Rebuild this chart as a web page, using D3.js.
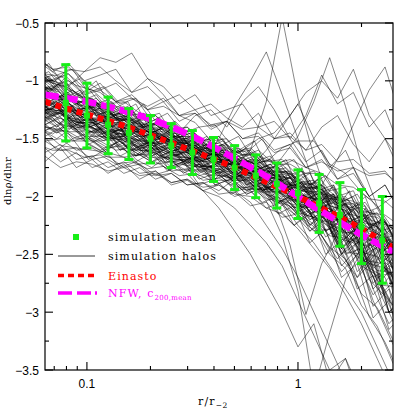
<!DOCTYPE html>
<html><head><meta charset="utf-8">
<script src="https://cdn.jsdelivr.net/npm/d3@7"></script>
<style>body{margin:0;background:#fff}svg{display:block}</style>
</head><body><svg id="c" width="415" height="415"></svg>
<script>
// ---------- data ----------
const xMajorTicks = [0.1, 1];
const xMajorLabels = ["0.1", "1"];
const xMinorTicks = [0.07, 0.08, 0.09, 0.2, 0.3, 0.4, 0.5, 0.6, 0.7, 0.8, 0.9, 2];
const yMajorTicks = [-3.5, -3, -2.5, -2, -1.5, -1, -0.5];
const yMajorLabels = ["\u22123.5", "\u22123", "\u22122.5", "\u22122", "\u22121.5", "\u22121", "\u22120.5"];
const yMinorTicks = [-3.25, -2.75, -2.25, -1.75, -1.25, -0.75];

// simulation mean with scatter
const meanX   = [0.0794, 0.1, 0.126, 0.158, 0.2, 0.251, 0.316, 0.398, 0.501, 0.631, 0.794, 1.0, 1.26, 1.58, 2.0, 2.51];
const meanY   = [-1.19, -1.30, -1.38, -1.45, -1.50, -1.56, -1.62, -1.68, -1.75, -1.82, -1.89, -1.97, -2.06, -2.16, -2.26, -2.38];
const errTop  = [-0.86, -1.02, -1.14, -1.24, -1.30, -1.37, -1.43, -1.49, -1.56, -1.64, -1.71, -1.77, -1.81, -1.88, -1.94, -2.00];
const errBot  = [-1.52, -1.58, -1.63, -1.68, -1.71, -1.75, -1.81, -1.87, -1.94, -2.01, -2.10, -2.19, -2.31, -2.43, -2.58, -2.75];

// model curves
const modelX   = [0.0633, 0.08, 0.1, 0.15, 0.2, 0.3, 0.5, 0.7, 1.0, 1.5, 2.0, 2.82];
const einastoY = [-1.18, -1.24, -1.29, -1.39, -1.47, -1.59, -1.75, -1.87, -2.00, -2.16, -2.28, -2.44];
const nfwY     = [-1.12, -1.15, -1.18, -1.26, -1.33, -1.46, -1.67, -1.82, -2.00, -2.20, -2.33, -2.48];

// individual halos: radii grids, values are slopes in units of -0.01
const haloGridA = [0.0531,0.0631,0.0750,0.0891,0.1059,0.1259,0.1496,0.1778,0.2113,0.2512,0.2985,0.3548,0.4217,0.5012,0.5957,0.7079,0.8414,1.0,1.189,1.413,1.679,1.995,2.371,2.818,3.350];
const haloGridB = [0.0579,0.0688,0.0818,0.0972,0.1155,0.1372,0.1631,0.1938,0.2303,0.2738,0.3255,0.3868,0.4597,0.5464,0.6494,0.7718,0.9173,1.0902,1.2957,1.5399,1.8302,2.1752,2.5852,3.0725,3.6517];
const haloGridC = [0.0555,0.0660,0.0784,0.0931,0.1107,0.1315,0.1563,0.1857,0.2207,0.2623,0.3117,0.3705,0.4402,0.5231,0.6217,0.7388,0.8780,1.0433,1.2398,1.4733,1.7508,2.0806,2.4725,2.9381,3.4915];
const haloGridD = [0.0606,0.0720,0.0855,0.1016,0.1208,0.1435,0.1706,0.2027,0.2409,0.2862,0.3401,0.4042,0.4803,0.5708,0.6783,0.8060,0.9578,1.1382,1.3526,1.6073,1.9100,2.2697,2.6972,3.2052,3.8089];
const halosSetAB = [
 [98,108,104,118,120,132,126,140,138,146,144,156,154,166,162,176,172,188,186,202,200,218,214,236,240],
 [128,134,140,136,148,150,160,154,166,168,172,174,184,182,194,190,204,200,218,214,234,228,252,248,266],
 [82,94,96,104,108,120,118,128,130,142,140,152,148,162,160,174,176,186,190,204,206,222,226,240,252],
 [118,126,124,134,132,144,138,152,150,158,156,168,162,178,174,186,184,202,196,220,212,238,232,256,254],
 [150,144,156,158,160,162,166,164,172,170,178,176,182,184,192,186,200,198,214,210,232,228,252,262,276],
 [106,116,110,124,122,130,132,142,140,152,146,160,160,172,164,182,180,196,190,206,200,226,222,248,250],
 [116,122,118,130,128,138,140,148,146,156,154,166,160,174,160,118,45,115,165,205,210,228,226,246,248],
 [95,102,90,92,80,84,76,98,112,130,136,152,150,164,164,180,178,194,190,208,206,224,222,244,242],
 [132,126,138,140,144,146,150,152,160,154,168,166,174,174,186,182,198,196,220,222,248,250,276,278,300],
 [112,104,118,118,130,132,136,138,150,148,158,158,170,166,178,178,190,192,206,202,222,218,236,232,250],
 [122,128,128,136,138,144,146,152,154,162,160,170,150,122,100,75,112,150,188,208,212,232,236,256,258],
 [140,146,136,148,148,150,154,160,162,166,168,178,176,184,184,196,194,210,206,230,232,256,258,284,286],
 [104,112,114,124,124,132,134,144,144,152,154,162,164,172,172,182,166,148,118,80,122,172,208,234,240],
 [118,112,124,128,138,132,144,144,150,152,162,160,172,172,180,182,192,194,190,168,138,108,88,132,172],
 [126,134,128,140,140,150,148,158,158,166,166,174,176,184,188,204,234,282,368,318,272,248,264,266,284],
 [110,120,122,132,132,142,144,152,150,160,160,170,170,178,182,204,242,302,258,232,238,258,262,278,282],
 [88,98,102,114,116,126,130,136,138,148,148,158,158,170,170,180,182,192,192,202,204,216,218,228,234],
 [136,142,144,152,152,160,158,166,166,172,174,182,182,192,194,202,206,216,220,236,240,262,270,306,326],
 [100,106,110,118,118,130,128,138,138,148,150,158,160,168,170,178,178,188,190,200,202,212,216,228,232],
 [120,130,124,134,138,146,146,154,152,162,160,170,170,180,180,190,192,204,208,222,222,238,240,266,274],
 [145,152,150,160,158,166,166,172,170,178,176,186,184,192,192,202,204,214,218,234,236,260,268,296,314],
 [92,102,106,116,120,132,134,144,148,156,156,164,166,172,174,182,184,196,196,206,210,220,224,232,234],
 [114,124,126,136,136,144,142,150,148,156,158,166,168,174,176,188,190,202,206,220,220,236,246,276,294],
 [108,116,116,126,128,138,138,146,146,154,154,164,164,174,176,188,194,212,224,250,266,304,326,356,356],
 [130,138,132,142,144,152,150,160,160,168,168,176,178,186,186,196,196,208,210,224,224,242,242,262,260],
 [80,90,94,106,110,122,126,136,138,148,148,158,160,170,172,182,184,192,194,202,204,214,216,226,228],
 [120,114,126,126,134,138,144,144,154,154,160,162,170,172,178,180,190,190,202,202,214,218,232,240,262],
 [155,160,160,166,164,172,170,176,174,182,180,186,186,194,194,204,208,224,234,254,236,272,286,316,336],
 [104,114,116,126,126,136,136,146,146,154,156,164,166,174,176,186,188,198,202,216,206,228,232,250,250],
 [126,120,132,134,134,138,148,148,150,154,164,164,172,176,186,186,196,200,210,216,230,218,244,252,272],
 [96,106,108,120,124,134,134,142,144,152,154,162,164,172,172,182,186,194,198,198,208,220,226,242,246],
 [138,132,144,144,152,150,160,160,166,168,174,174,182,184,194,194,202,206,218,224,238,244,262,274,298],
 [112,120,124,134,134,142,144,152,152,160,162,170,170,182,184,192,194,206,210,224,230,248,252,276,284],
 [108,114,114,124,126,134,134,142,142,150,150,158,158,164,164,172,172,180,180,190,192,202,204,216,218],
 [124,132,126,138,140,148,148,156,156,164,164,174,174,182,182,192,198,214,224,244,254,284,296,324,340],
 [102,112,114,122,124,132,134,144,144,152,152,162,162,170,170,178,180,190,194,206,212,228,236,254,260],
 [134,140,142,150,150,158,156,164,162,170,168,176,176,184,186,198,202,216,226,250,262,294,312,344,366],
 [116,122,124,132,134,140,142,150,150,158,158,168,168,176,176,184,188,200,204,216,220,232,238,252,260],
 [90,100,104,112,116,128,132,140,140,150,152,160,162,172,174,184,184,194,196,208,212,224,230,244,250],
 [128,124,134,136,144,144,150,152,158,158,166,168,176,176,184,184,194,196,208,214,228,236,254,262,280],
 [118,126,128,136,136,146,146,154,154,162,162,170,168,174,168,170,158,152,152,172,180,196,208,228,238],
 [146,140,152,152,160,154,164,164,170,170,178,178,186,186,196,196,206,210,222,230,250,258,286,302,334]
];
const halosSetCD = [
 [90,110,98,125,118,140,130,128,150,142,165,158,150,172,190,176,168,200,185,215,240,210,250,235,270],
 [135,120,142,150,138,160,155,170,162,158,178,185,170,190,182,205,198,186,230,220,205,260,240,280,300],
 [105,98,115,108,130,125,118,142,150,138,155,148,168,160,152,180,195,175,210,190,230,250,220,270,260],
 [128,140,125,145,152,140,165,158,148,170,162,180,176,168,195,188,205,218,200,240,225,265,290,260,310],
 [95,85,105,112,100,125,132,120,140,135,150,162,155,148,170,165,185,178,200,215,195,230,220,255,240],
 [145,160,150,168,160,175,170,182,178,170,190,185,198,192,205,200,215,230,220,250,270,245,300,330,310],
 [120,112,132,125,140,150,138,155,148,165,158,150,172,180,168,190,182,210,195,235,215,260,245,290,320],
 [100,115,108,118,135,128,120,145,138,152,160,148,165,158,175,170,188,180,205,198,225,212,245,232,260],
 [130,125,118,140,135,128,150,162,148,158,172,165,160,182,175,195,188,202,225,210,248,232,275,300,285],
 [85,95,90,110,105,120,115,135,128,145,140,138,155,162,150,175,168,190,182,205,198,220,240,228,255],
 [115,130,122,135,148,142,155,150,165,160,155,175,170,185,178,200,192,215,208,235,260,240,285,270,315],
 [140,132,150,145,138,158,165,152,170,168,180,172,168,188,195,182,210,205,198,230,250,238,270,300,335],
 [108,100,120,128,118,135,130,148,142,138,160,155,170,165,178,172,185,200,192,215,232,255,240,270,290],
 [125,138,130,128,145,155,148,142,160,170,162,178,172,190,185,180,205,198,220,245,230,270,300,285,320],
 [92,105,118,110,125,120,138,132,128,150,145,158,152,168,162,180,175,190,188,198,210,205,225,240,230],
 [150,142,138,155,162,150,168,175,165,180,172,190,185,198,192,210,225,215,240,265,250,290,320,350,340],
 [112,125,115,130,138,128,145,140,155,150,162,158,175,168,185,178,192,188,210,205,222,240,230,258,250],
 [135,128,142,138,150,145,160,155,150,172,165,160,180,175,192,185,200,225,210,250,235,280,265,310,300],
 [98,92,110,118,112,130,125,140,135,150,145,160,155,165,172,168,182,178,195,190,215,200,235,225,260],
 [122,118,130,140,135,148,145,158,150,165,170,162,178,185,175,195,210,200,230,222,255,285,270,320,355],
 [105,118,112,125,120,140,132,148,145,155,150,168,160,175,170,188,185,205,220,198,240,228,265,250,290],
 [142,150,140,155,148,165,158,150,175,170,182,178,190,185,198,210,200,230,215,260,245,295,280,330,360],
 [88,100,95,108,120,115,128,140,135,148,142,160,155,170,165,180,178,195,185,210,205,230,220,250,245],
 [130,122,138,132,145,160,150,165,158,170,165,178,185,175,195,190,205,220,212,240,270,255,300,290,335],
 [110,105,125,118,130,125,145,138,150,160,152,168,162,175,185,178,195,190,212,205,232,225,258,245,280],
 [118,132,125,140,135,150,142,160,155,150,170,165,180,172,190,198,188,215,208,245,230,275,260,305,295],
 [95,108,100,115,125,118,135,130,148,140,158,152,165,160,178,172,190,185,202,198,222,215,245,238,265],
 [138,145,135,150,160,152,165,160,175,170,185,180,178,195,190,205,215,208,235,225,265,250,300,285,330],
 [102,96,112,122,115,130,140,132,145,155,148,165,158,172,168,185,178,200,195,222,210,245,235,270,260],
 [128,120,135,128,148,142,152,165,158,168,175,168,185,180,195,205,198,225,215,250,240,280,310,295,340],
 [115,125,120,132,128,145,138,150,160,152,165,175,168,182,178,195,188,210,200,228,220,250,242,278,268],
 [145,138,152,148,160,155,170,162,178,172,168,190,185,198,192,215,208,240,228,270,258,305,290,340,330],
 [85,98,105,98,115,128,122,138,132,148,142,155,165,158,172,168,185,182,198,192,212,208,230,225,248],
 [125,118,140,132,145,140,158,152,165,162,175,170,182,178,195,188,202,215,208,238,228,262,252,290,280],
 [108,120,115,130,125,138,148,140,155,148,162,172,165,180,175,192,185,205,198,222,215,248,238,272,265],
 [132,140,130,145,140,152,160,155,168,162,178,172,185,195,188,200,225,212,250,238,280,268,315,300,350],
 [100,110,120,112,130,138,132,148,142,158,152,165,160,175,182,175,195,188,208,200,228,218,248,240,270],
 [120,128,122,138,132,148,142,155,162,158,170,165,178,172,188,182,198,192,215,208,240,232,268,258,300],
 [112,105,118,125,120,135,142,138,150,145,162,158,170,165,180,175,192,188,205,198,222,215,240,235,258],
 [135,145,140,150,158,152,162,170,165,178,172,185,180,192,188,205,200,220,212,245,235,270,262,300,290]
];
const halosSetE = [
 [78,92,85,100,95,90,110,105,118,112,125,120,132,140,128,150,145,160,140,130,155,170,150,180,200],
 [160,170,158,175,168,180,172,185,178,190,186,195,190,200,195,210,205,225,240,260,280,300,330,360,380],
 [100,95,105,92,88,100,110,98,105,120,112,130,125,120,140,135,150,170,160,185,175,200,190,215,230],
 [165,158,170,162,175,170,180,175,185,180,190,188,195,185,175,160,140,120,150,175,160,190,210,200,220],
 [88,100,94,110,102,118,112,125,118,135,128,142,135,150,145,160,155,175,168,185,180,200,190,215,205],
 [150,162,155,168,165,175,170,180,178,188,185,195,200,210,225,240,260,290,320,350,340,370,360,380,390],
 [110,118,112,125,120,132,128,140,135,145,130,125,140,118,105,125,150,130,95,120,110,140,125,160,150],
 [120,128,125,135,140,150,148,160,162,175,180,195,210,230,250,275,300,330,310,360,340,380,370,390,400],
 [95,105,100,112,108,118,115,125,122,130,128,138,135,142,140,150,148,160,155,170,168,180,178,195,190],
 [145,152,160,158,168,165,175,172,182,180,190,188,198,196,208,205,218,215,230,228,250,245,270,265,290],
 [118,125,120,130,135,130,142,148,140,155,150,160,155,165,160,172,168,175,170,178,175,182,180,190,195],
 [125,132,128,138,145,140,152,158,150,165,162,175,180,195,205,225,245,270,300,330,360,390,400,400,400],
 [80,90,88,100,108,102,115,122,115,130,125,140,135,150,148,162,158,175,180,200,195,225,220,250,245],
 [170,165,175,170,172,178,175,182,180,188,185,192,190,198,200,210,215,228,245,262,285,310,340,370,390],
 [125,130,135,140,142,150,152,158,160,165,168,175,170,160,150,145,130,110,100,115,90,130,150,170,180],
 [102,110,105,120,115,128,122,135,130,145,140,152,148,162,158,170,168,182,178,195,192,215,210,235,230]
];

// legend
const legendLabels = ["simulation mean", "simulation halos", "Einasto", "NFW, c"];
const nfwSub = "200,mean";

// ---------- drawing ----------
const svg = d3.select("#c");
const L = 45, R = 393, T = 23, B = 370;
const x = d3.scaleLog().domain([0.0633, 2.82]).range([L, R]);
const y = d3.scaleLinear().domain([-3.5, -0.5]).range([B, T]);

svg.append("rect").attr("width", 415).attr("height", 415).attr("fill", "#fff");

svg.append("clipPath").attr("id", "pc")
  .append("rect").attr("x", L).attr("y", T).attr("width", R - L).attr("height", B - T);
const plot = svg.append("g").attr("clip-path", "url(#pc)");

const line = d3.line().x(d => x(d[0])).y(d => y(d[1]));
const curve = d3.line().x(d => x(d[0])).y(d => y(d[1])).curve(d3.curveMonotoneX);

function drawHalo(h, grid) {
  const pts = h.map((v, k) => [grid[k], -v / 100]);
  plot.append("path").attr("d", line(pts))
    .attr("fill", "none").attr("stroke", "#000").attr("stroke-width", 0.6).attr("stroke-opacity", 0.8);
}
halosSetAB.forEach((h, i) => drawHalo(h, i % 2 === 0 ? haloGridA : haloGridB));
halosSetCD.forEach((h, i) => drawHalo(h, i % 2 === 0 ? haloGridC : haloGridD));
halosSetE.forEach((h, i) => drawHalo(h, i % 2 === 0 ? haloGridB : haloGridA));

// Einasto
plot.append("path").attr("d", curve(modelX.map((v, i) => [v, einastoY[i]])))
  .attr("fill", "none").attr("stroke", "#ff0000").attr("stroke-width", 6)
  .attr("stroke-dasharray", "6,5");
// NFW
plot.append("path").attr("d", curve(modelX.map((v, i) => [v, nfwY[i]])))
  .attr("fill", "none").attr("stroke", "#ff00ff").attr("stroke-width", 6.5)
  .attr("stroke-dasharray", "14,5");

// mean + error bars
const green = "#17ee17";
const eb = plot.append("g");
meanX.forEach((mx, i) => {
  const px = x(mx);
  eb.append("line").attr("x1", px).attr("x2", px).attr("y1", y(errTop[i])).attr("y2", y(errBot[i]))
    .attr("stroke", green).attr("stroke-width", 3);
  [errTop[i], errBot[i]].forEach(v => {
    eb.append("line").attr("x1", px - 4.5).attr("x2", px + 4.5).attr("y1", y(v)).attr("y2", y(v))
      .attr("stroke", green).attr("stroke-width", 3);
  });
  eb.append("rect").attr("x", px - 3).attr("y", y(meanY[i]) - 3).attr("width", 6).attr("height", 6)
    .attr("fill", green);
});

// frame and ticks
svg.append("rect").attr("x", L).attr("y", T).attr("width", R - L).attr("height", B - T)
  .attr("fill", "none").attr("stroke", "#000").attr("stroke-width", 1.2);

const tickG = svg.append("g").attr("stroke", "#000").attr("stroke-width", 1.1);
function xt(v, len) {
  tickG.append("line").attr("x1", x(v)).attr("x2", x(v)).attr("y1", B).attr("y2", B - len);
  tickG.append("line").attr("x1", x(v)).attr("x2", x(v)).attr("y1", T).attr("y2", T + len);
}
function yt(v, len) {
  tickG.append("line").attr("y1", y(v)).attr("y2", y(v)).attr("x1", L).attr("x2", L + len);
  tickG.append("line").attr("y1", y(v)).attr("y2", y(v)).attr("x1", R).attr("x2", R - len);
}
xMajorTicks.forEach(v => xt(v, 8));
xMinorTicks.forEach(v => xt(v, 4));
yMajorTicks.forEach(v => yt(v, 8));
yMinorTicks.forEach(v => yt(v, 4));

const tickFont = "'Liberation Sans', Arial, sans-serif";
xMajorTicks.forEach((v, i) => {
  svg.append("text").attr("x", x(v)).attr("y", 388).attr("text-anchor", "middle")
    .attr("font-family", tickFont).attr("font-size", 12).text(xMajorLabels[i]);
});
yMajorTicks.forEach((v, i) => {
  svg.append("text").attr("x", 39).attr("y", y(v) + 4.5).attr("text-anchor", "end")
    .attr("font-family", tickFont).attr("font-size", 12).text(yMajorLabels[i]);
});

const serif = "'DejaVu Serif', 'Liberation Serif', serif";
// axis titles
const xt1 = svg.append("text").attr("x", 198).attr("y", 405).attr("font-family", serif)
  .attr("font-size", 11).attr("letter-spacing", 1.2);
xt1.append("tspan").text("r/r");
xt1.append("tspan").attr("dy", 3).attr("font-size", 7.5).attr("letter-spacing", 0.5).text("\u22122");

svg.append("text").attr("transform", "translate(11,181) rotate(-90)").attr("text-anchor", "middle")
  .attr("font-family", serif).attr("font-size", 10).attr("letter-spacing", 0.2).text("dln\u03c1/dlnr");

// legend
const lg = svg.append("g").attr("font-family", serif).attr("font-size", 11).attr("letter-spacing", 1.1);
lg.append("rect").attr("x", 73).attr("y", 234).attr("width", 6).attr("height", 6).attr("fill", green);
lg.append("text").attr("x", 108).attr("y", 241).attr("fill", "#000").text(legendLabels[0]);
lg.append("line").attr("x1", 58).attr("x2", 95).attr("y1", 256).attr("y2", 256).attr("stroke", "#000").attr("stroke-width", 0.8);
lg.append("text").attr("x", 108).attr("y", 260).attr("fill", "#000").text(legendLabels[1]);
lg.append("line").attr("x1", 58).attr("x2", 94).attr("y1", 275.5).attr("y2", 275.5).attr("stroke", "#ff0000")
  .attr("stroke-width", 3.5).attr("stroke-dasharray", "6,4");
lg.append("text").attr("x", 108).attr("y", 280).attr("fill", "#ff0000").text(legendLabels[2]);
lg.append("line").attr("x1", 58).attr("x2", 97).attr("y1", 293).attr("y2", 293).attr("stroke", "#ff00ff")
  .attr("stroke-width", 3.5).attr("stroke-dasharray", "14,5,14,4,2,10");
const nt = lg.append("text").attr("x", 108).attr("y", 297).attr("fill", "#ff00ff");
nt.append("tspan").text(legendLabels[3]);
nt.append("tspan").attr("dy", 3).attr("font-size", 7).attr("letter-spacing", 0.3).text(nfwSub);
</script></body></html>
